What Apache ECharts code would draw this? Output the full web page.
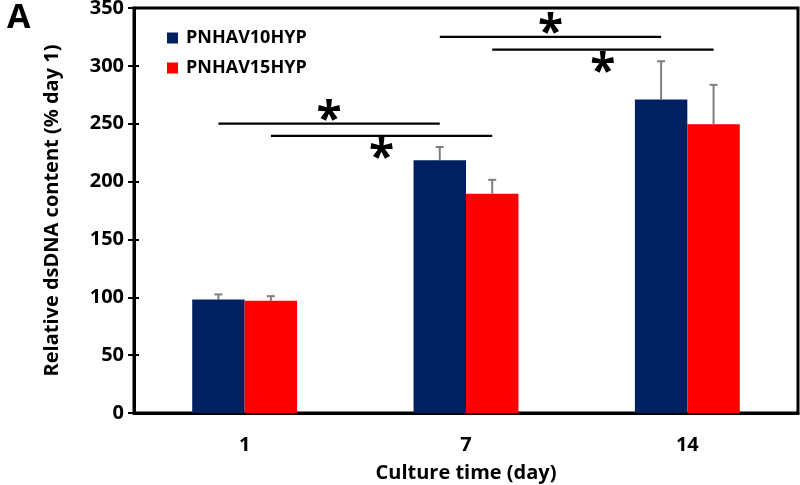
<!DOCTYPE html>
<html><head><meta charset="utf-8">
<script src="https://cdn.jsdelivr.net/npm/echarts@6/dist/echarts.min.js"></script>
<style>html,body{margin:0;padding:0;background:#fff}#c{width:800px;height:485px}</style>
</head><body><div id="c"></div>
<script>
var categories = ['1', '7', '14'];
var seriesNames = ['PNHAV10HYP', 'PNHAV15HYP'];
var pnhav10 = [98, 218.4, 271];
var pnhav15 = [97, 189.5, 249.6];
var err10 = [4.5, 11.5, 33];
var err15 = [4, 12, 34];
var yTicks = [0, 50, 100, 150, 200, 250, 300, 350];
// significance brackets: [fromCategory, toCategory, yValue, seriesIndex, starSide(-1 above, 1 below)]
var brackets = [
  [0, 1, 250, 0, -1],
  [0, 1, 239.5, 1, 1],
  [1, 2, 325, 0, -1],
  [1, 2, 314, 1, 1]
];
var colors = ['#002060', '#FF0000'];
var GAP = 0.526;
var FONT = '"Open Sans", "Noto Sans", sans-serif';

function barOffset(api, sIdx) {
  var band = api.size([1, 0])[0];
  var bw = band * (1 - GAP) / 2;
  return { bw: bw, off: (sIdx === 0 ? -bw / 2 : bw / 2) };
}

function errSeries(sIdx, vals, errs) {
  return {
    type: 'custom', z: 1,
    data: vals.map(function (v, i) { return [i, v, v + errs[i]]; }),
    renderItem: function (params, api) {
      var o = barOffset(api, sIdx);
      var p0 = api.coord([api.value(0), api.value(1)]);
      var p1 = api.coord([api.value(0), api.value(2)]);
      var x = p0[0] + o.off;
      var st = { stroke: '#7f7f7f', lineWidth: 2 };
      return { type: 'group', children: [
        { type: 'line', shape: { x1: x, y1: p0[1], x2: x, y2: p1[1] }, style: st },
        { type: 'line', shape: { x1: x - 4, y1: p1[1], x2: x + 4, y2: p1[1] }, style: st }
      ]};
    }
  };
}

var chart = echarts.init(document.getElementById('c'));
chart.setOption({
  animation: false,
  backgroundColor: '#fff',
  grid: { left: 134, right: 2, top: 8, bottom: 72, show: true, borderColor: '#000', borderWidth: 3,
    containLabel: false, outerBoundsMode: 'none' },
  legend: {
    orient: 'vertical', left: 162, top: 21, itemWidth: 11, itemHeight: 11, itemGap: 6,
    icon: 'rect', data: seriesNames,
    textStyle: { fontFamily: FONT, fontWeight: 'bold', fontSize: 18, lineHeight: 24, color: '#000', padding: [0, 0, 0, 3] }
  },
  graphic: [
    { type: 'text', left: 7, top: 1, style: { text: 'A', font: 'bold 34px ' + FONT, fill: '#000' } }
  ],
  xAxis: {
    type: 'category', data: categories,
    name: 'Culture time (day)', nameLocation: 'middle', nameGap: 50,
    nameTextStyle: { fontFamily: FONT, fontWeight: 'bold', fontSize: 20, color: '#000' },
    axisLine: { lineStyle: { color: '#000', width: 3 } },
    axisTick: { show: false },
    axisLabel: { fontFamily: FONT, fontWeight: 'bold', fontSize: 20, color: '#000', margin: 22 }
  },
  yAxis: [{
    type: 'value', min: 0, max: 350, interval: 50,
    name: 'Relative dsDNA content (% day 1)', nameLocation: 'middle', nameGap: 72,
    nameTextStyle: { fontFamily: FONT, fontWeight: 'bold', fontSize: 20, color: '#000' },
    splitLine: { show: false },
    axisLine: { show: true, lineStyle: { color: '#000', width: 3 } },
    axisTick: { show: true, length: 6, lineStyle: { color: '#000', width: 2 } },
    axisLabel: { fontFamily: FONT, fontWeight: 'bold', fontSize: 20, color: '#000', margin: 10,
      formatter: function (v) { return yTicks.indexOf(v) >= 0 ? String(v) : ''; } }
  }, {
    type: 'value', min: 0, max: 350, interval: 50, position: 'left',
    splitLine: { show: false }, axisLabel: { show: false },
    axisLine: { show: false },
    axisTick: { show: true, inside: true, length: 5, lineStyle: { color: '#000', width: 2 } }
  }],
  series: [
    { name: seriesNames[0], type: 'bar', data: pnhav10, barGap: '0%', barCategoryGap: (GAP * 100) + '%',
      itemStyle: { color: colors[0] }, z: 2 },
    { name: seriesNames[1], type: 'bar', data: pnhav15, barGap: '0%', barCategoryGap: (GAP * 100) + '%',
      itemStyle: { color: colors[1] }, z: 2 },
    errSeries(0, pnhav10, err10),
    errSeries(1, pnhav15, err15),
    {
      type: 'custom', z: 5,
      data: brackets,
      renderItem: function (params, api) {
        var s = api.value(3);
        var o = barOffset(api, s);
        var a = api.coord([api.value(0), api.value(2)]);
        var b = api.coord([api.value(1), api.value(2)]);
        var x1 = a[0] + o.off, x2 = b[0] + o.off, y = a[1];
        var side = api.value(4);
        return { type: 'group', children: [
          { type: 'line', shape: { x1: x1, y1: y, x2: x2, y2: y }, style: { stroke: '#000', lineWidth: 2.2 } },
          { type: 'text', x: (x1 + x2) / 2, y: y + side * 13 + 11,
            style: { text: '*', font: 'bold 46px ' + FONT, fill: '#000', textAlign: 'center', textVerticalAlign: 'middle' } }
        ]};
      }
    }
  ]
});
</script></body></html>
